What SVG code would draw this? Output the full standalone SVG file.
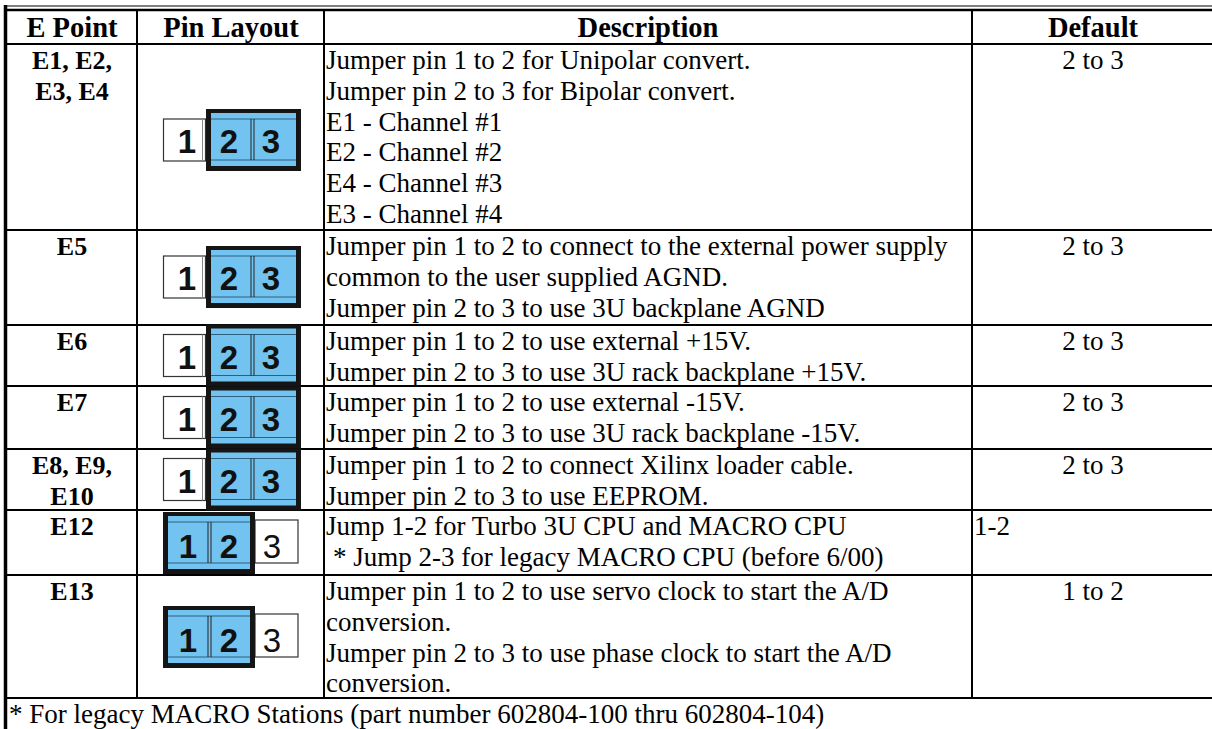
<svg xmlns="http://www.w3.org/2000/svg" xmlns:xlink="http://www.w3.org/1999/xlink" width="1212" height="729" viewBox="0 0 1212 729">
<style>
.t{font-family:"Liberation Serif","Times New Roman",serif;font-size:27px;fill:#000}
.b{font-weight:bold;font-size:26px}
.h{font-family:"Liberation Serif","Times New Roman",serif;font-weight:bold;font-size:28.5px;text-anchor:middle;fill:#000}
.c{text-anchor:middle}
.g{stroke:#000;stroke-width:2;fill:none}
.d{font-family:"Liberation Sans Narrow","Liberation Sans",Arial,sans-serif;font-weight:bold;font-size:33px;text-anchor:middle;fill:#111}
.dn{font-family:"Liberation Sans Narrow","Liberation Sans",Arial,sans-serif;font-size:33px;text-anchor:middle;fill:#111}
</style>
<defs>
<symbol id="pinA" overflow="visible">
<rect x="0.5" y="10" width="42" height="42" fill="#fff" stroke="#333" stroke-width="1.2"/>
<line x1="39.5" y1="10" x2="39.5" y2="52" stroke="#888" stroke-width="1"/>
<rect x="43" y="0" width="95" height="62" fill="#151515"/>
<rect x="48" y="4" width="85" height="53" fill="#72c3ef"/>
<line x1="48" y1="10" x2="133" y2="10" stroke="#2d5f80" stroke-width="1"/>
<line x1="48" y1="51" x2="133" y2="51" stroke="#2d5f80" stroke-width="1"/>
<line x1="88" y1="10" x2="88" y2="51" stroke="#222" stroke-width="1"/>
<line x1="91" y1="10" x2="91" y2="51" stroke="#222" stroke-width="1"/>
<text class="d" x="24" y="44">1</text>
<text class="d" x="66" y="44">2</text>
<text class="d" x="108" y="44">3</text>
</symbol>
<symbol id="pinB" overflow="visible">
<rect x="92" y="8" width="43" height="43" fill="#fff" stroke="#333" stroke-width="1.2"/>
<rect x="0" y="0" width="92" height="62" fill="#151515"/>
<rect x="5" y="4" width="82" height="53" fill="#72c3ef"/>
<line x1="5" y1="10" x2="87" y2="10" stroke="#2d5f80" stroke-width="1"/>
<line x1="5" y1="51" x2="87" y2="51" stroke="#2d5f80" stroke-width="1"/>
<line x1="45" y1="10" x2="45" y2="51" stroke="#222" stroke-width="1"/>
<line x1="48" y1="10" x2="48" y2="51" stroke="#222" stroke-width="1"/>
<text class="d" x="25" y="46">1</text>
<text class="d" x="66" y="46">2</text>
<text class="dn" x="109" y="46">3</text>
</symbol>
</defs>
<rect width="1212" height="729" fill="#fff"/>

<g id="grid">
<line x1="4" y1="6" x2="1212" y2="6" stroke="#000" stroke-width="1.2"/>
<line x1="4" y1="10" x2="1212" y2="10" stroke="#000" stroke-width="2.5"/>
<line x1="5.5" y1="5" x2="5.5" y2="729" stroke="#000" stroke-width="3.5"/>
<line class="g" x1="137" y1="10" x2="137" y2="698"/>
<line class="g" x1="324" y1="10" x2="324" y2="698"/>
<line class="g" x1="972" y1="10" x2="972" y2="698"/>
<line class="g" x1="5" y1="44" x2="1212" y2="44"/>
<line class="g" x1="5" y1="230" x2="1212" y2="230"/>
<line class="g" x1="5" y1="325" x2="1212" y2="325"/>
<line class="g" x1="5" y1="386" x2="1212" y2="386"/>
<line class="g" x1="5" y1="449" x2="1212" y2="449"/>
<line class="g" x1="5" y1="510" x2="1212" y2="510"/>
<line class="g" x1="5" y1="575" x2="1212" y2="575"/>
<line class="g" x1="5" y1="698" x2="1212" y2="698"/>
</g>

<g id="header">
<text class="h" x="72" y="37">E Point</text>
<text class="h" x="231" y="37">Pin Layout</text>
<text class="h" x="648" y="37">Description</text>
<text class="h" x="1093" y="37">Default</text>
</g>

<g id="row-e1">
<text class="t b c" x="72" y="69">E1, E2,</text>
<text class="t b c" x="72" y="99.8">E3, E4</text>
<use xlink:href="#pinA" href="#pinA" x="163" y="109"/>
<text class="t" x="326" y="69">Jumper pin 1 to 2 for Unipolar convert.</text>
<text class="t" x="326" y="99.8">Jumper pin 2 to 3 for Bipolar convert.</text>
<text class="t" x="326" y="130.6">E1 - Channel #1</text>
<text class="t" x="326" y="161.4">E2 - Channel #2</text>
<text class="t" x="326" y="192.2">E4 - Channel #3</text>
<text class="t" x="326" y="223">E3 - Channel #4</text>
<text class="t c" x="1093" y="69">2 to 3</text>
</g>

<g id="row-e5">
<text class="t b c" x="72" y="255">E5</text>
<use xlink:href="#pinA" href="#pinA" x="163" y="246"/>
<text class="t" x="326" y="255">Jumper pin 1 to 2 to connect to the external power supply</text>
<text class="t" x="326" y="285.8">common to the user supplied AGND.</text>
<text class="t" x="326" y="316.6">Jumper pin 2 to 3 to use 3U backplane AGND</text>
<text class="t c" x="1093" y="255">2 to 3</text>
</g>

<g id="row-e6">
<text class="t b c" x="72" y="350">E6</text>
<use xlink:href="#pinA" href="#pinA" x="163" y="324.5"/>
<text class="t" x="326" y="350">Jumper pin 1 to 2 to use external +15V.</text>
<text class="t" x="326" y="380.8">Jumper pin 2 to 3 to use 3U rack backplane +15V.</text>
<text class="t c" x="1093" y="350">2 to 3</text>
</g>

<g id="row-e7">
<text class="t b c" x="72" y="411">E7</text>
<use xlink:href="#pinA" href="#pinA" x="163" y="386.5"/>
<text class="t" x="326" y="411">Jumper pin 1 to 2 to use external -15V.</text>
<text class="t" x="326" y="441.8">Jumper pin 2 to 3 to use 3U rack backplane -15V.</text>
<text class="t c" x="1093" y="411">2 to 3</text>
</g>

<g id="row-e8">
<text class="t b c" x="72" y="474">E8, E9,</text>
<text class="t b c" x="72" y="504.8">E10</text>
<use xlink:href="#pinA" href="#pinA" x="163" y="448.5"/>
<text class="t" x="326" y="474">Jumper pin 1 to 2 to connect Xilinx loader cable.</text>
<text class="t" x="326" y="504.8">Jumper pin 2 to 3 to use EEPROM.</text>
<text class="t c" x="1093" y="474">2 to 3</text>
</g>

<g id="row-e12">
<text class="t b c" x="72" y="535">E12</text>
<use xlink:href="#pinB" href="#pinB" x="163" y="512"/>
<text class="t" x="326" y="535">Jump 1-2 for Turbo 3U CPU and MACRO CPU</text>
<text class="t" x="333" y="565.8">* Jump 2-3 for legacy MACRO CPU (before 6/00)</text>
<text class="t" x="974" y="535">1-2</text>
</g>

<g id="row-e13">
<text class="t b c" x="72" y="600">E13</text>
<use xlink:href="#pinB" href="#pinB" x="163" y="606"/>
<text class="t" x="326" y="600">Jumper pin 1 to 2 to use servo clock to start the A/D</text>
<text class="t" x="326" y="630.8">conversion.</text>
<text class="t" x="326" y="661.6">Jumper pin 2 to 3 to use phase clock to start the A/D</text>
<text class="t" x="326" y="692.4">conversion.</text>
<text class="t c" x="1093" y="600">1 to 2</text>
</g>

<g id="footnote">
<text class="t" x="9" y="723">* For legacy MACRO Stations (part number 602804-100 thru 602804-104)</text>
</g>
</svg>
